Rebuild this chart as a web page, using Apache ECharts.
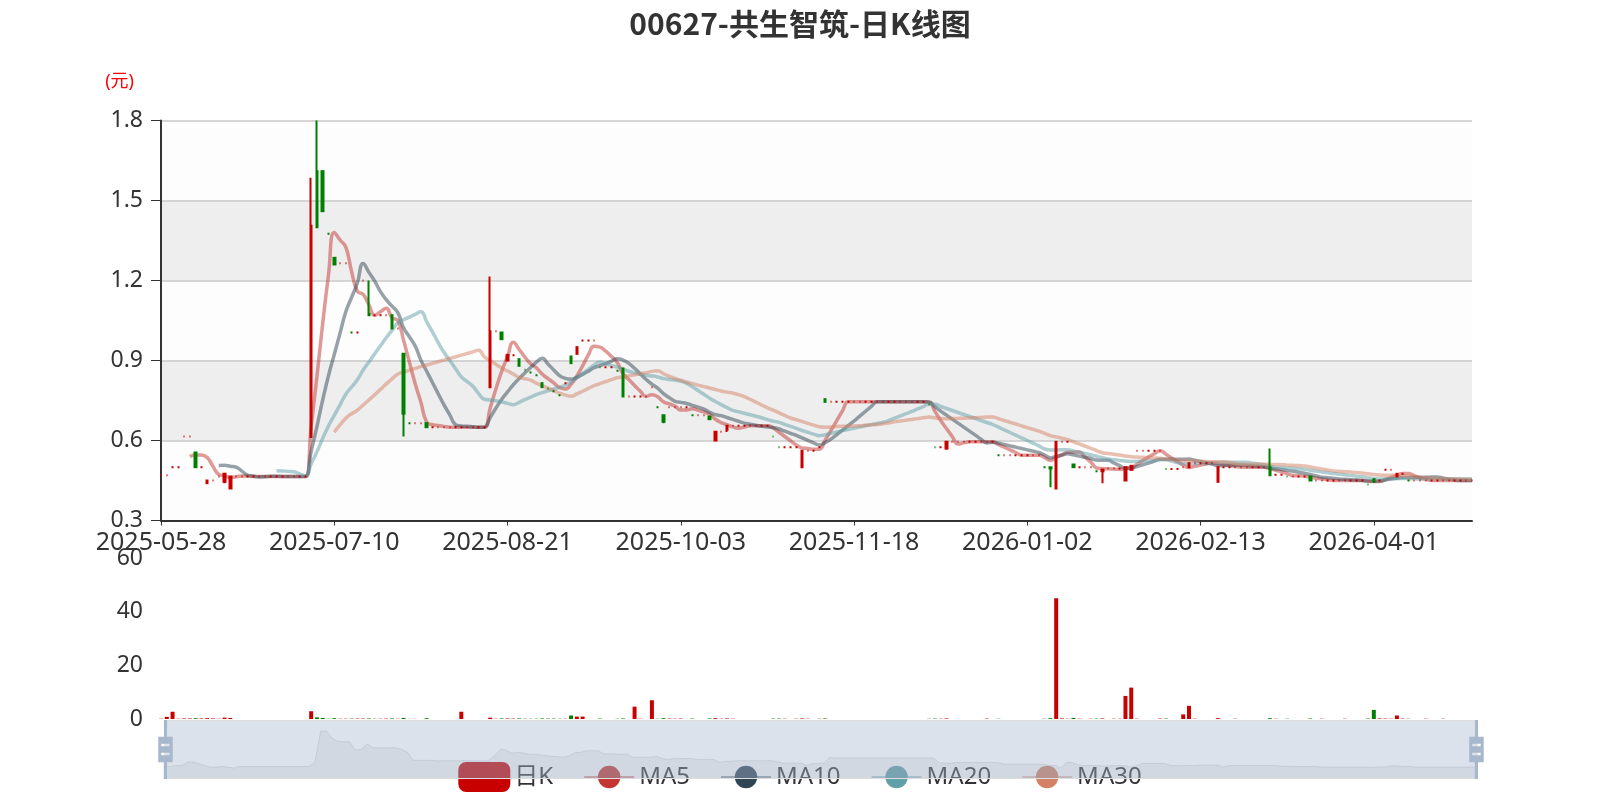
<!DOCTYPE html>
<html><head><meta charset="utf-8">
<script src="https://cdn.jsdelivr.net/npm/echarts@6/dist/echarts.min.js"></script>
<style>html,body{margin:0;padding:0;background:#fff}#main{width:1600px;height:800px}</style>
</head><body><div id="main"></div>
<script>
// ---- categories: HK trading days starting 2025-05-28 ----
const startDate = '2025-05-28';
const holidays = ['2025-07-01','2025-10-01','2025-10-07','2025-10-29','2025-12-25','2025-12-26',
  '2026-01-01','2026-02-17','2026-02-18','2026-02-19','2026-04-03','2026-04-06','2026-04-07'];

// ---- candles: a number = no-trade day (open=close=low=high), else [open, close, low, high] ----
const candles = [
  0.47, 0.47, 0.50, 0.50, 0.615, 0.615,
  [0.555,0.50,0.50,0.555], 0.50, [0.44,0.45,0.44,0.45], 0.45, 0.465,
  [0.445,0.475,0.44,0.475], [0.42,0.465,0.42,0.465],
  0.465,0.465,0.465,0.465,0.465,0.465,0.465,0.465,0.465,0.465,0.465,0.465,0.465,
  [0.613,1.405,0.613,1.585], [1.61,1.40,1.40,1.80], [1.61,1.46,1.46,1.61], 1.375,
  [1.285,1.26,1.26,1.285], 1.265, 1.265, 1.005, 1.005, 1.20,
  [1.075,1.07,1.07,1.20], 1.07, 1.07, 1.07, [1.07,1.02,1.02,1.07], 1.02,
  [0.925,0.70,0.615,0.925], 0.665, 0.665, 0.665, [0.665,0.65,0.65,0.665],
  0.65,0.65,0.65,0.65,0.65,0.65,0.65,0.65,0.65,0.65,
  [0.80,1.01,0.80,1.215], 1.01, [1.005,0.98,0.98,1.005], [0.90,0.92,0.90,0.925], 0.92,
  [0.905,0.88,0.88,0.905], 0.865, 0.855, 0.845, [0.815,0.80,0.80,0.815], 0.795, 0.785, 0.77, 0.815,
  [0.915,0.89,0.89,0.915], [0.925,0.95,0.925,0.95], 0.975, 0.975, 0.975,
  0.875, 0.875, 0.875, 0.862, [0.87,0.765,0.765,0.87], 0.765, 0.765, 0.765, 0.765,
  0.80, 0.725, [0.695,0.67,0.665,0.695], 0.725, 0.725, 0.725, 0.725,
  0.695, 0.695, 0.695, [0.69,0.68,0.68,0.69], [0.60,0.633,0.60,0.636], 0.633,
  [0.64,0.655,0.632,0.655], 0.655,0.655,0.655,0.655,0.655,0.655,0.655,
  0.615, 0.575, 0.575, 0.575, 0.575, [0.50,0.562,0.50,0.565], 0.562, 0.562, 0.575,
  [0.755,0.745,0.745,0.755],
  0.745,0.745,0.745,0.745,0.745,0.745,0.745,0.745,0.745,0.745,0.745,0.745,0.745,0.745,0.745,0.745,0.745,
  0.735, 0.575, 0.575, [0.57,0.595,0.565,0.595],
  0.595,0.595,0.595,0.595,0.595,0.595,0.595,0.595,
  0.545,0.545,0.545,0.545,0.545,0.545,0.545,0.545,
  0.50, [0.50,0.495,0.425,0.50], [0.42,0.595,0.42,0.595], 0.595, 0.595,
  [0.51,0.50,0.50,0.51], 0.50, 0.50, 0.50, 0.485, [0.485,0.49,0.44,0.495], 0.495, 0.495, 0.495,
  [0.45,0.50,0.45,0.50], [0.49,0.505,0.49,0.505], 0.562, 0.562, 0.562, 0.562, 0.562,
  0.493, 0.493, 0.493, 0.50, [0.50,0.515,0.50,0.5175], 0.515, 0.515, 0.515, 0.515,
  [0.445,0.50,0.445,0.50], 0.50,0.50,0.50,0.50,0.50,0.50,0.50,0.50,
  [0.50,0.47,0.47,0.57], 0.472, 0.472, 0.465, 0.465, 0.465, 0.465,
  [0.465,0.45,0.45,0.465], 0.45,0.45,0.45,0.45,0.45,0.45,0.45,0.45,0.45,
  0.435, [0.455,0.445,0.445,0.455], 0.45, 0.49, 0.49, [0.465,0.475,0.465,0.475], 0.475,
  0.45,0.45,0.45,0.45,0.45,0.45,0.45,0.45,0.45,0.45,0.45,0.45
];

// ---- volumes ----
const volumes = [
  0.1,0.8,2.7,0.1,0.2,0.2,0.3,0.2,0.3,0.2,0.1,0.5,0.4,
  0,0,0,0,0,0,0,0,0,0,0,0,0,
  2.9,0.6,0.4,0.1,0.3,0.1,0.1,0.15,0.15,0.15,0.2,0.1,0.1,0.15,0.2,0.1,0.4,0.05,0.05,0,0.3,
  0,0,0,0,0,2.7,0,0,0,0,
  0.5,0.1,0.2,0.2,0.15,0.2,0.1,0.1,0.1,0.2,0.15,0.15,0.1,0.1,1.3,0.9,0.9,0,0,
  0.15,0,0,0.1,0.2,0,4.6,0.1,0,7.0,0.1,0.3,0.15,0.1,0.15,0,0.15,0,0,0.2,0.3,0.1,0.2,0.1,
  0,0,0,0,0,0,0.15,0.15,0.1,0,0.1,0.2,0.1,0,0.1,0.2,
  0,0,0,0,0,0,0,0,0,0,0,0,0,0,0,0,0,
  0.1,0.15,0.1,0.2,0,0,0,0,0,0,0.15,0,
  0.1,0,0,0,0,0,0,0,
  0.1,0.3,45,0.2,0.1,0.4,0.1,0,0.1,0.15,0.2,0,0.1,0.1,8.6,11.7,0.1,0,0,0,0.15,
  0.15,0,0,1.7,4.9,0.1,0,0,0,0.3,0,0,0.1,0,0,0,0,0,
  0.3,0.1,0,0.1,0,0,0,0.2,0,0.1,0,0,0,0.1,0,0,0,
  0.15,3.4,0.2,0.15,0.1,1.3,0.15,0.1,0,0,0.1,0,0,0.1,0,0,0,0,0
];

const upColor = '#c80000';
const downColor = '#008000';
const maColors = ['#c23531', '#2f4554', '#61a0a8', '#d48265'];
const maDays = [5, 10, 20, 30];
const FONT = "'Noto Sans', 'Noto Sans CJK SC', sans-serif";

function buildDates(start, n) {
  const out = [];
  const d = new Date(start + 'T00:00:00Z');
  while (out.length < n) {
    const s = d.toISOString().slice(0, 10);
    const wd = d.getUTCDay();
    if (wd !== 0 && wd !== 6 && holidays.indexOf(s) < 0) out.push(s);
    d.setUTCDate(d.getUTCDate() + 1);
  }
  return out;
}
const dates = buildDates(startDate, candles.length);
const kData = candles.map(c => typeof c === 'number' ? [c, c, c, c] : c);

function calculateMA(n) {
  const res = [];
  for (let i = 0; i < kData.length; i++) {
    if (i < n) { res.push('-'); continue; }
    let s = 0;
    for (let j = 0; j < n; j++) s += kData[i - j][1];
    res.push(+(s / n).toFixed(4));
  }
  return res;
}
function sign(i) {
  const o = kData[i][0], c = kData[i][1];
  if (o > c) return -1;
  if (o < c) return 1;
  if (i > 0) return kData[i - 1][1] <= c ? 1 : -1;
  return 1;
}
const volData = volumes.map((v, i) => ({
  value: v,
  itemStyle: { color: sign(i) > 0 ? upColor : downColor }
}));

const chart = echarts.init(document.getElementById('main'));
const maSeries = maDays.map((n, k) => ({
  name: 'MA' + n,
  type: 'line',
  data: calculateMA(n),
  smooth: true,
  showSymbol: false,
  symbol: 'circle',
  color: maColors[k],
  lineStyle: { width: 3.5, opacity: 0.5 },
  z: 3
}));

const v4Handle = 'M8.2,13.6V3.9H6.3v9.7H3.1v14.9h3.3v9.7h1.8v-9.7h3.3V13.6H8.2z M9.7,24.4H4.8v-1.4h4.9V24.4z M9.7,19.1H4.8v-1.4h4.9V19.1z';

chart.setOption({
  animation: false,
  textStyle: { fontFamily: FONT },
  title: {
    text: '00627-共生智筑-日K线图',
    left: 'center', top: 4,
    textStyle: { fontSize: 30, fontWeight: 'bold', color: '#333', fontFamily: "'Noto Sans CJK SC', sans-serif" }
  },
  legend: {
    data: ['日K', 'MA5', 'MA10', 'MA20', 'MA30'],
    left: 'center', top: 757,
    itemWidth: 50, itemHeight: 28, itemGap: 30,
    textStyle: { fontSize: 24, color: '#333' },
    z: 1
  },
  grid: [
    { left: 161, right: 128, top: 120.5, height: 400 },
    { left: 161, right: 128, top: 558, height: 161 }
  ],
  xAxis: [
    {
      type: 'category', data: dates, boundaryGap: false, gridIndex: 0,
      axisLine: { lineStyle: { color: '#333', width: 2 } },
      axisTick: { show: true, interval: 29, lineStyle: { color: '#333' } },
      axisLabel: { interval: 29, fontSize: 25, color: '#333', margin: 10 },
      splitLine: { show: false }
    },
    {
      type: 'category', data: dates, boundaryGap: false, gridIndex: 1,
      axisLine: { show: false }, axisTick: { show: false },
      axisLabel: { show: false }, splitLine: { show: false }
    }
  ],
  yAxis: [
    {
      type: 'value', gridIndex: 0, min: 0.3, max: 1.8, interval: 0.3,
      name: '(元)', nameLocation: 'end', nameGap: 30,
      nameTextStyle: { color: '#ff0000', fontSize: 18, align: 'right', padding: [0, 27, 0, 0] },
      axisLine: { show: true, lineStyle: { color: '#333', width: 2 } },
      axisTick: { show: true, length: 10, lineStyle: { color: '#333' } },
      axisLabel: { fontSize: 23, color: '#333', margin: 18, formatter: v => v.toFixed(1) },
      splitLine: { show: true, lineStyle: { color: '#c8c8c8', width: 1.5 } },
      splitArea: { show: true, areaStyle: { color: ['rgba(250,250,250,0.3)', 'rgba(200,200,200,0.3)'] } }
    },
    {
      type: 'value', gridIndex: 1, min: 0, max: 60, interval: 20,
      axisLine: { show: false }, axisTick: { show: false },
      axisLabel: { fontSize: 23, color: '#333', margin: 18 },
      splitLine: { show: false }
    }
  ],
  dataZoom: [
    { type: 'inside', xAxisIndex: [0, 1], start: 0, end: 100 },
    {
      type: 'slider', xAxisIndex: [0, 1], start: 0, end: 100,
      left: 162, right: 125, top: 720, height: 59, z: 10,
      brushSelect: false, moveHandleSize: 0, showDetail: false,
      backgroundColor: 'rgba(47,69,84,0)',
      borderColor: '#ddd',
      fillerColor: 'rgba(167,183,204,0.4)',
      handleIcon: v4Handle, handleSize: '100%',
      handleStyle: { color: '#a7b7cc', borderColor: '#a7b7cc', borderWidth: 0 },
      dataBackground: {
        lineStyle: { color: '#2f4554', width: 0.5, opacity: 0.3 },
        areaStyle: { color: 'rgba(47,69,84,0.3)', opacity: 0.3 }
      },
      selectedDataBackground: {
        lineStyle: { color: '#2f4554', width: 0.5, opacity: 0.3 },
        areaStyle: { color: 'rgba(47,69,84,0.3)', opacity: 0.3 }
      }
    }
  ],
  series: [
    {
      name: '日K', type: 'candlestick', data: kData, barWidth: 2,
      itemStyle: { color: upColor, color0: downColor, borderColor: upColor, borderColor0: downColor, borderWidth: 2 },
      z: 4
    },
    ...maSeries,
    {
      name: '成交量', type: 'bar', xAxisIndex: 1, yAxisIndex: 1, data: volData
    }
  ]
});
</script>
</body></html>
